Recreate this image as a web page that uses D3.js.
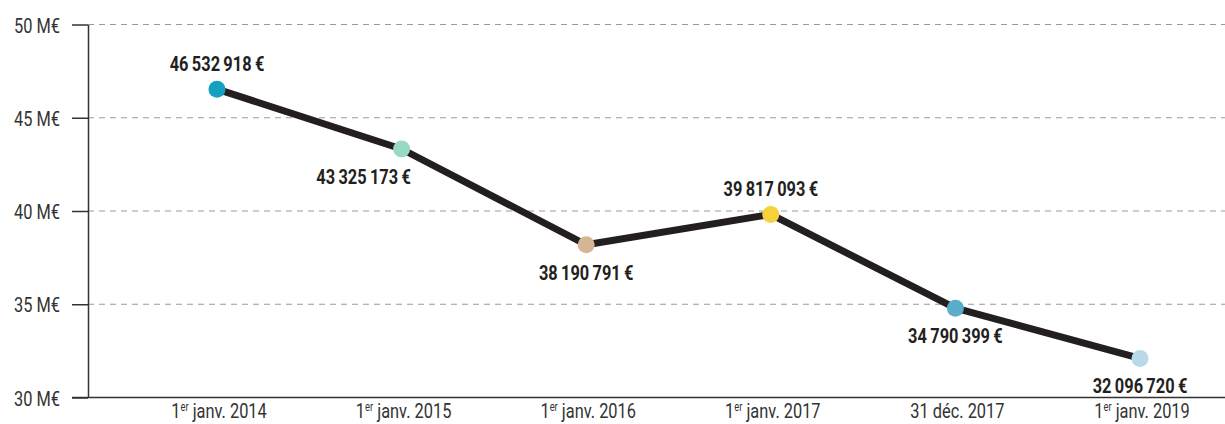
<!DOCTYPE html>
<html lang="fr">
<head>
<meta charset="UTF-8" />
<title>Évolution</title>
<script src="https://d3js.org/d3.v7.min.js"></script>
<style>
    body { margin: 0; background: #fff; }
    svg text { font-family: "Roboto", "Liberation Sans", sans-serif; }
    .grid line { stroke: #9a9a9a; stroke-width: 1; stroke-dasharray: 6 5; }
    .axis-y text, .xlabel { fill: #333; font-size: 21px; }
    .axis-y line, .axis-y path { stroke: #333; stroke-width: 1.5; }
    .value-label { fill: #231f20; font-size: 21px; font-weight: bold; }
</style>
</head>
<body>
<svg width="1225" height="424"></svg>
<script>
    // data
    const dates = ["2014-01-01", "2015-01-01", "2016-01-01", "2017-01-01", "2017-12-31", "2019-01-01"];
    const dayPart = ["1", "1", "1", "1", "31 déc. 2017", "1"];
    const dayPartSup = ["er", "er", "er", "er", "", "er"];
    const dateRest = [" janv. 2014", " janv. 2015", " janv. 2016", " janv. 2017", "", " janv. 2019"];
    const amounts = [46532918, 43325173, 38190791, 39817093, 34790399, 32096720];
    const dotColors = ["#159fc0", "#98d9c4", "#d5b594", "#f6d13b", "#5aaec9", "#bad9e8"];
    const yTicks = [30, 35, 40, 45, 50];

    // where each value label sits relative to its dot
    const labelSide = ["above", "below-left", "below", "above", "below", "below"];

    const svg = d3.select("svg");
    const W = 1225;
    const axisX = 88, plotTop = 24.5, plotBottom = 397.5;
    const SX = 0.78; // the original uses a condensed face, squeeze text horizontally

    const x = d3.scalePoint().domain(dates).range([217, 1140]);
    const y = d3.scaleLinear().domain([30, 50]).range([plotBottom, plotTop]);

    const fr = d3.formatLocale({ decimal: ",", thousands: "\u2009", grouping: [3], currency: ["", "\u2009€"] });
    const fmt = fr.format("$,.0f");

    const place = (tx, ty) => "translate(" + tx + "," + ty + ") scale(" + SX + ",1)";

    // grid lines
    svg.append("g").attr("class", "grid")
        .selectAll("line")
        .data(yTicks.filter(d => d > 30))
        .join("line")
        .attr("x1", axisX).attr("x2", W)
        .attr("y1", d => y(d)).attr("y2", d => y(d));

    // y axis
    svg.append("g")
        .attr("class", "axis-y")
        .attr("transform", "translate(" + axisX + ",0)")
        .call(d3.axisLeft(y).tickValues(yTicks).tickSize(16).tickSizeOuter(0).tickPadding(11)
            .tickFormat(d => d + " M€"))
        .call(g => g.selectAll("text")
            .attr("x", 0).attr("dy", "0.36em")
            .attr("transform", place(-28, 0)));

    // x axis line
    svg.append("line")
        .attr("x1", axisX - 16).attr("x2", W)
        .attr("y1", y(30)).attr("y2", y(30))
        .attr("stroke", "#333").attr("stroke-width", 1.5);

    // x labels
    const xl = svg.append("g").selectAll("text")
        .data(dates)
        .join("text")
        .attr("class", "xlabel")
        .attr("transform", d => place(x(d) + 2, 418))
        .attr("text-anchor", "middle");
    xl.append("tspan").text((d, i) => dayPart[i]);
    xl.append("tspan")
        .attr("font-size", "12px")
        .attr("dy", "-7")
        .text((d, i) => dayPartSup[i]);
    xl.append("tspan")
        .attr("dy", (d, i) => dayPartSup[i] ? 7 : 0)
        .text((d, i) => dateRest[i]);

    // line
    const pts = dates.map((d, i) => [x(d), y(amounts[i] / 1e6)]);
    svg.append("path")
        .datum(pts)
        .attr("d", d3.line())
        .attr("fill", "none")
        .attr("stroke", "#231f20")
        .attr("stroke-width", 7)
        .attr("stroke-linejoin", "round");

    // dots
    svg.append("g").selectAll("circle")
        .data(pts)
        .join("circle")
        .attr("cx", d => d[0]).attr("cy", d => d[1])
        .attr("r", 8.5)
        .attr("fill", (d, i) => dotColors[i]);

    // value labels
    svg.append("g").selectAll("text")
        .data(pts)
        .join("text")
        .attr("class", "value-label")
        .attr("text-anchor", "middle")
        .attr("transform", (d, i) => place(
            d[0] + (labelSide[i] === "below-left" ? -38 : 0),
            d[1] + (labelSide[i] === "above" ? -18 : 35)))
        .text((d, i) => fmt(amounts[i]));
</script>
</body>
</html>
